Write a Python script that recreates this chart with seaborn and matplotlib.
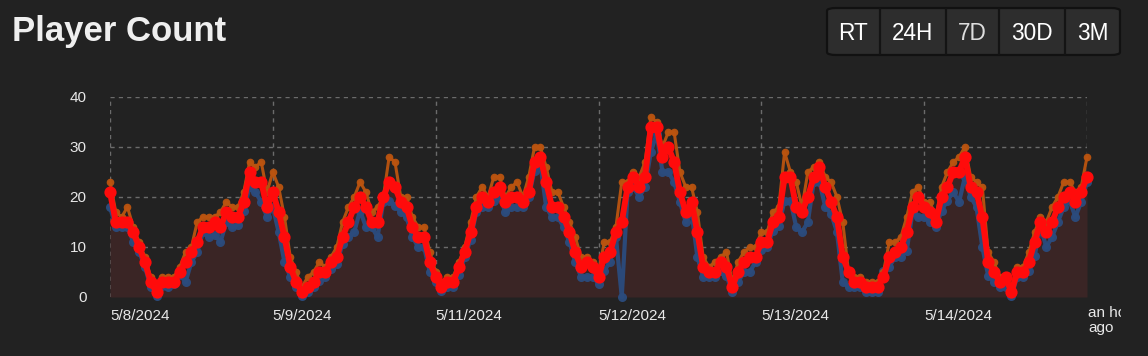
import numpy as np
import pandas as pd
import matplotlib
matplotlib.use("Agg")
import matplotlib.pyplot as plt
import seaborn as sns
from matplotlib.patches import FancyBboxPatch
from matplotlib.lines import Line2D
from matplotlib.transforms import Bbox

# ---------------- data ----------------
avg_players = [
    21, 15, 15, 15, 13, 10, 7, 3, 1, 3, 3, 3, 5, 7, 9, 11, 14, 14, 15, 14, 17, 16, 16, 19, 25, 23, 23, 18, 21, 17,
    12, 6, 3, 1, 2, 3, 5, 5, 7, 8, 12, 15, 18,
    20, 18, 15, 15, 20, 23, 22, 19, 18, 14, 12, 12, 7, 4, 2, 3, 3, 6, 9, 13, 18, 20, 19, 21, 22, 19, 20, 20, 19,
    21, 27, 28, 23, 18, 18, 16, 13, 9, 6, 7, 6, 4,
    8, 9, 13, 15, 22, 24, 22, 24, 34, 34, 28, 30, 27, 21, 17, 19, 13, 6, 5, 5, 7, 6, 2, 5, 7, 8, 8, 11, 11, 15,
    16, 24, 24, 18, 17, 20, 24, 26, 22, 19, 16, 8,
    5, 3, 3, 2, 2, 2, 4, 8, 9, 10, 13, 18, 20, 18, 17, 15, 20, 22, 25, 25, 28, 22, 21, 16, 7, 5, 3, 4, 1, 5,
    5, 7, 11, 15, 13, 15, 18, 20, 21, 19, 21, 24,
]
max_players = [
    23, 17, 16, 18, 14, 11, 8, 4, 2, 4, 4, 4, 6, 9, 10, 15, 16, 16, 16, 17, 19, 18, 18, 21, 27, 26, 27, 21, 25, 22,
    16, 8, 5, 2, 4, 5, 7, 6, 8, 10, 15, 18, 20,
    23, 21, 17, 18, 20, 28, 27, 20, 20, 16, 14, 14, 9, 5, 3, 4, 4, 7, 10, 15, 20, 22, 20, 24, 24, 20, 22, 23, 20,
    24, 30, 30, 26, 21, 21, 18, 15, 12, 8, 8, 7, 5,
    11, 11, 14, 23, 23, 25, 24, 27, 36, 35, 30, 33, 33, 25, 22, 22, 17, 8, 6, 7, 8, 9, 3, 7, 9, 10, 10, 13, 13, 17,
    18, 29, 25, 23, 18, 25, 26, 27, 24, 23, 20, 15,
    5, 4, 4, 3, 3, 3, 5, 11, 11, 12, 16, 21, 22, 19, 19, 16, 22, 25, 27, 28, 30, 24, 23, 22, 9, 7, 4, 4, 2, 6,
    6, 9, 13, 16, 15, 18, 20, 23, 23, 21, 22, 28,
]
min_players = [
    18, 14, 14, 14, 11, 9, 6, 2, 0.3, 2.3, 2, 2.7, 4.5, 3, 7, 9, 13, 12, 12.5, 11, 15, 14, 14.5, 17.3, 22, 21, 19, 16, 18, 13,
    7, 4, 2, 0.3, 1, 2, 3.3, 4, 5.7, 6.7, 10.7, 12, 13,
    17.3, 14, 14, 12, 19, 19.3, 18.3, 17, 16, 12, 10, 10, 5, 3, 1.3, 2, 2, 4.5, 8, 11.5, 17, 18, 18, 19.3, 20, 17, 18, 18, 18,
    20, 25.3, 26.7, 18, 16, 16, 14, 11, 7, 4, 4, 4, 2.7,
    5.3, 7, 12, 0, 21, 22, 20, 22, 29, 32.7, 25, 25, 23, 19, 15, 17, 8, 4, 4, 4, 5.3, 4.3, 1, 3, 5, 5, 7, 9.5, 10, 13.3,
    14.3, 19.3, 19.3, 14, 13, 15, 23, 23, 18, 16.7, 13, 3,
    2, 2, 2, 1, 1, 1, 5.3, 6, 8, 8, 9.3, 17, 16, 16, 15, 14, 17.3, 19.3, 21, 19, 24, 20, 18, 10, 4.3, 3, 2, 2, 0.3, 4,
    4, 5.3, 8.3, 14, 10, 12, 15, 18, 19.3, 16, 19, 23,
]
hours = list(range(len(avg_players)))

tick_hours = [0, 28, 56, 84, 112, 140, 168]
tick_labels = ["5/8/2024", "5/9/2024", "5/11/2024", "5/12/2024", "5/13/2024", "5/14/2024", "an hour\nago"]
y_ticks = [0, 10, 20, 30, 40]
buttons = ["RT", "24H", "7D", "30D", "3M"]

df = pd.DataFrame({"hour": hours, "min": min_players, "max": max_players, "avg": avg_players})

# ---------------- style ----------------
W, H = 1148, 356
BG = "#222222"
sns.set_theme(style="dark")
plt.rcParams["font.family"] = ["Liberation Sans", "DejaVu Sans"]
plt.rcParams["axes.facecolor"] = BG
plt.rcParams["figure.facecolor"] = BG

fig = plt.figure(figsize=(W / 100, H / 100), dpi=100)
fig.patch.set_facecolor(BG)


def fx(x):
    return x / W


def fy(y):
    return 1 - y / H


ax = fig.add_axes([fx(110), fy(297), 977 / W, 200 / H])
ax.set_facecolor(BG)
for s in ax.spines.values():
    s.set_visible(False)

ax.fill_between(df["hour"], 0, df["avg"], color="#3a2525", lw=0, zorder=1)

sns.lineplot(data=df, x="hour", y="min", ax=ax, color="#2b4c7e", lw=3.0, marker="o",
             markersize=6.5, markeredgewidth=0, alpha=0.95, clip_on=False, zorder=3)
sns.lineplot(data=df, x="hour", y="max", ax=ax, color="#bb540f", lw=2.2, marker="o",
             markersize=5.5, markeredgewidth=0, alpha=0.95, clip_on=False, zorder=4)
sns.lineplot(data=df, x="hour", y="avg", ax=ax, color="#ff0b0b", lw=4.3, marker="o",
             markersize=8.8, markeredgewidth=0, clip_on=False, zorder=5)

ax.set_xlim(0, 168)
ax.set_ylim(0, 40)
ax.set_xlabel("")
ax.set_ylabel("")
ax.set_xticks(tick_hours)
ax.set_xticklabels(tick_labels[:-1] + [""])
for lbl in ax.get_xticklabels():
    lbl.set_ha("left")
ax.set_yticks(y_ticks)
ax.tick_params(axis="x", length=0, pad=9, labelsize=11, labelcolor="#e8e8e8")
ax.tick_params(axis="y", length=0, pad=17, labelsize=11, labelcolor="#e8e8e8")
ax.grid(True, axis="both", color="#6b6b6b", ls=(0, (3, 3)), lw=1.0, zorder=0)
ax.set_axisbelow(True)

# last (clipped) label
t = fig.text(fx(1088), fy(306), tick_labels[-1], ha="left", va="top", fontsize=11,
             color="#e8e8e8", linespacing=1.05)
t.set_clip_on(True)
t.set_clip_box(Bbox.from_extents(0, 0, 1121, H))

# title
fig.text(fx(12), fy(41), "Player Count", ha="left", va="baseline", fontsize=25,
         fontweight="bold", color="#efefef")

# button group
edges = [827, 880, 946, 999, 1065, 1120]
box = FancyBboxPatch((fx(827), fy(55)), fx(1120) - fx(827), fy(8) - fy(55),
                     boxstyle="round,pad=0,rounding_size=0.008", transform=fig.transFigure,
                     facecolor="#2d2d2d", edgecolor="#111111", lw=1.6, zorder=1)
fig.patches.append(box)
for e in edges[1:-1]:
    fig.lines.append(Line2D([fx(e), fx(e)], [fy(9), fy(54)], transform=fig.transFigure,
                            color="#141414", lw=1.6))
for i, b in enumerate(buttons):
    cx = (edges[i] + edges[i + 1]) / 2
    fig.text(fx(cx), fy(40), b, ha="center", va="baseline", fontsize=16.3,
             color="#dddddd" if b == "7D" else "#ffffff")

fig.savefig("out.png", dpi=100, facecolor=BG)
